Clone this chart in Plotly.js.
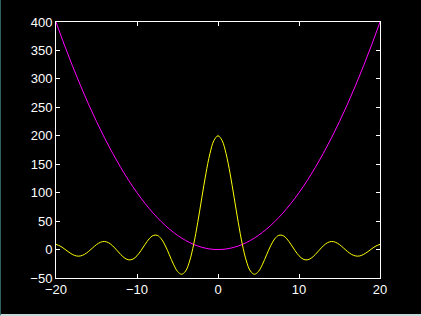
<!DOCTYPE html>
<html>
<head>
<meta charset="utf-8">
<script src="https://cdn.plot.ly/plotly-3.0.1.min.js"></script>
<style>
html,body{margin:0;padding:0;background:#000;}
body{width:420px;height:314px;border-left:1px solid #2e6262;border-bottom:2px solid #c4dcdc;overflow:hidden;}
#chart{width:420px;height:314px;}
</style>
</head>
<body>
<div id="chart"></div>
<script>
// x positions for the curves
const xSinc = [-20,-19.5,-19,-18.5,-18,-17.5,-17,-16.5,-16,-15.5,-15,-14.5,-14,-13.5,-13,-12.5,-12,-11.5,-11,-10.5,-10,-9.5,-9,-8.5,-8,-7.5,-7,-6.5,-6,-5.5,-5,-4.5,-4,-3.5,-3,-2.5,-2,-1.5,-1,-0.5,0,0.5,1,1.5,2,2.5,3,3.5,4,4.5,5,5.5,6,6.5,7,7.5,8,8.5,9,9.5,10,10.5,11,11.5,12,12.5,13,13.5,14,14.5,15,15.5,16,16.5,17,17.5,18,18.5,19,19.5,20];
// yellow oscillating curve values
const ySinc = [9.1,6.2,1.6,-3.7,-8.3,-11.2,-11.3,-8.6,-3.6,2.7,8.7,12.9,14.2,11.9,6.5,-1.1,-8.9,-15.2,-18.2,-16.8,-10.9,-1.6,9.2,18.8,24.7,25.0,18.8,6.6,-9.3,-25.7,-38.4,-43.4,-37.8,-20.0,9.4,47.9,90.9,133.0,168.3,191.8,200,191.8,168.3,133.0,90.9,47.9,9.4,-20.0,-37.8,-43.4,-38.4,-25.7,-9.3,6.6,18.8,25.0,24.7,18.8,9.2,-1.6,-10.9,-16.8,-18.2,-15.2,-8.9,-1.1,6.5,11.9,14.2,12.9,8.7,2.7,-3.6,-8.6,-11.3,-11.2,-8.3,-3.7,1.6,6.2,9.1];
// magenta parabola values
const xPar = [-20,-19,-18,-17,-16,-15,-14,-13,-12,-11,-10,-9,-8,-7,-6,-5,-4,-3,-2,-1,0,1,2,3,4,5,6,7,8,9,10,11,12,13,14,15,16,17,18,19,20];
const yPar = [400,361,324,289,256,225,196,169,144,121,100,81,64,49,36,25,16,9,4,1,0,1,4,9,16,25,36,49,64,81,100,121,144,169,196,225,256,289,324,361,400];
// tick labels
const xTicks = [-20,-10,0,10,20];
const yTicks = [-50,0,50,100,150,200,250,300,350,400];

const traces = [
  {x: xPar, y: yPar, type: 'scatter', mode: 'lines', line: {color: '#ff00ff', width: 1, shape: 'spline'}, hoverinfo: 'skip'},
  {x: xSinc, y: ySinc, type: 'scatter', mode: 'lines', line: {color: '#ffff00', width: 1, shape: 'spline'}, hoverinfo: 'skip'}
];

const axisCommon = {
  showgrid: false, zeroline: false, showline: true, linecolor: '#ffffff', linewidth: 1,
  mirror: 'ticks', ticks: 'inside', ticklen: 4, tickwidth: 1, tickcolor: '#ffffff',
  tickfont: {family: 'Liberation Sans, Arial, sans-serif', size: 13, color: '#ffffff'}
};

const layout = {
  width: 420, height: 314,
  paper_bgcolor: '#000000', plot_bgcolor: '#000000',
  margin: {l: 55, r: 41, t: 22, b: 36},
  showlegend: false,
  xaxis: Object.assign({}, axisCommon, {range: [-20, 20], ticklabelstandoff: -1, tickmode: 'array', tickvals: xTicks, ticktext: xTicks.map(v => v < 0 ? '\u2212' + Math.abs(v) : String(v))}),
  yaxis: Object.assign({}, axisCommon, {range: [-50, 400], tickmode: 'array', tickvals: yTicks, ticktext: yTicks.map(v => v < 0 ? '\u2212' + Math.abs(v) : String(v))})
};

Plotly.newPlot('chart', traces, layout, {staticPlot: true, displayModeBar: false});
</script>
</body>
</html>
